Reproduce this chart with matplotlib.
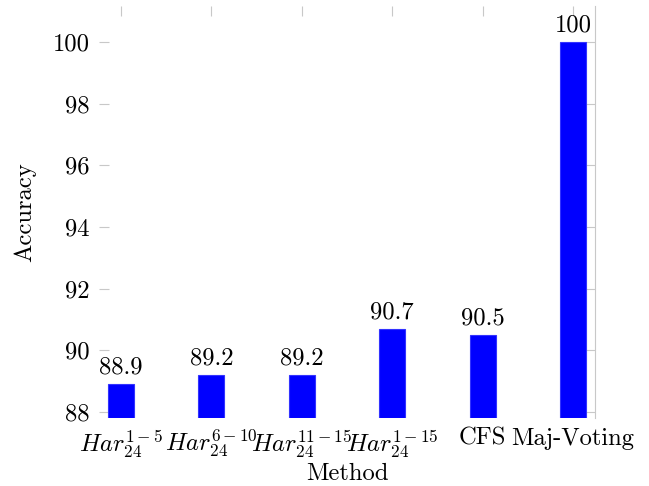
import matplotlib
matplotlib.use("Agg")
import matplotlib.pyplot as plt

methods = [r"$Har_{24}^{1-5}$", r"$Har_{24}^{6-10}$", r"$Har_{24}^{11-15}$",
           r"$Har_{24}^{1-15}$", "CFS", "Maj-Voting"]
accuracy = [88.9, 89.2, 89.2, 90.7, 90.5, 100]
value_labels = ["88.9", "89.2", "89.2", "90.7", "90.5", "100"]
yticks = [88, 90, 92, 94, 96, 98, 100]

plt.rcParams['font.family'] = ['cmr10', 'DejaVu Serif']
plt.rcParams['mathtext.fontset'] = 'cm'
plt.rcParams['axes.unicode_minus'] = False
plt.rcParams['axes.formatter.use_mathtext'] = True

FS = 17.7
fig = plt.figure(figsize=(6.49, 4.86), dpi=100)
ax = fig.add_axes([99/649, 68/486, (595-99)/649, (418-6)/486])

YMIN = 87.805
x = list(range(len(methods)))
bars = ax.bar(x, [v - YMIN for v in accuracy], width=0.288, bottom=YMIN,
              color='#0000ff', edgecolor='#3333ff', linewidth=0.8, zorder=2)
ax.set_ylim(YMIN, 101.168)
ax.set_xlim(-0.243, 5.243)
for b, lbl in zip(bars, value_labels):
    ax.annotate(lbl, (b.get_x() + b.get_width()/2, b.get_y() + b.get_height()),
                xytext=(0, 4), textcoords='offset points', ha='center', va='bottom',
                fontsize=FS)

ax.set_xticks(x)
ax.set_xticklabels(methods, fontsize=FS)
ax.set_yticks(yticks)
ax.set_yticklabels([str(v) for v in yticks], fontsize=FS)

gray = '#c8c8c8'
ax.tick_params(axis='x', direction='in', bottom=False, top=True, labelbottom=True,
               labeltop=False, length=7, width=0.8, color=gray, pad=7)
ax.tick_params(axis='y', direction='in', left=True, right=True, labelleft=True,
               length=7, width=0.8, color=gray, pad=6.5)
for s in ['left', 'top', 'bottom']:
    ax.spines[s].set_visible(False)
ax.spines['right'].set_color(gray)
ax.spines['right'].set_linewidth(0.8)

ax.set_xlabel("Method", fontsize=FS, labelpad=2)
ax.set_ylabel("Accuracy", fontsize=FS, labelpad=12)

fig.savefig("out.png", dpi=100)
